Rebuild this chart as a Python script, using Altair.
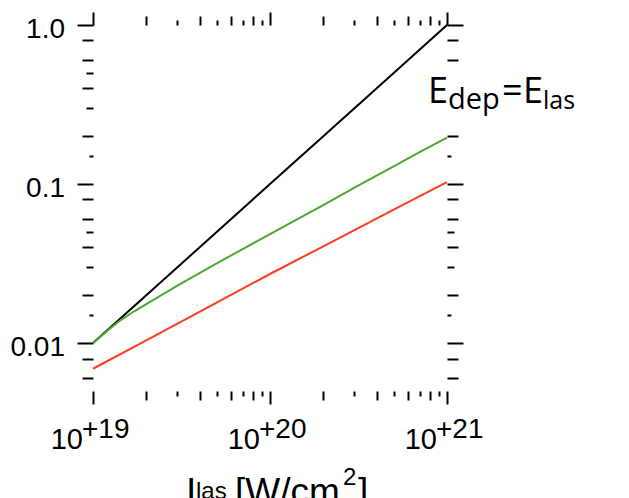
import altair as alt
import pandas as pd

# ---- data ----
black_x = [1e19, 2e19, 5e19, 1e20, 2e20, 5e20, 1e21]
black_y = [0.0100, 0.0200, 0.0500, 0.100, 0.200, 0.500, 1.00]

green_x = [1e19, 1.2e19, 1.4e19, 1.7e19, 2e19, 3e19, 5e19, 7e19, 1e20, 1.5e20, 2e20, 3e20, 5e20, 7e20, 1e21]
green_y = [0.0100, 0.0119, 0.0137, 0.0158, 0.0176, 0.0230, 0.0317, 0.0390, 0.0485, 0.0620, 0.0738, 0.0950, 0.129, 0.159, 0.196]

red_x = [1e19, 2e19, 5e19, 1e20, 2e20, 5e20, 1e21]
red_y = [0.0069, 0.0104, 0.0180, 0.0272, 0.0406, 0.069, 0.103]

series_names = ["black", "green", "red"]
series_colors = ["#000000", "#4da832", "#ff3c1e"]

x_major = [1e19, 1e20, 1e21]
x_base_labels = ["10", "10", "10"]
x_exp_labels = ["+19", "+20", "+21"]
y_major = [1.0, 0.1, 0.01]
y_labels = ["1.0", "0.1", "0.01"]

x_ticks = [m * d for d in [1e19, 1e20] for m in [1, 2, 3, 4, 5, 6, 7, 8, 9]] + [1e21]
y_ticks = [0.006, 0.008, 0.01, 0.015, 0.02, 0.03, 0.04, 0.05, 0.06, 0.08,
           0.1, 0.15, 0.2, 0.3, 0.4, 0.5, 0.6, 0.8, 1.0]
y_ticks_right = [0.006, 0.008, 0.01, 0.015, 0.02, 0.03, 0.04, 0.05, 0.06, 0.08,
                 0.1, 0.15, 0.2, 0.6, 0.8, 1.0]

X_DOMAIN = [1e19, 1e21]
Y_DOMAIN = [0.005, 1.0]

rows = []
for name, xs, ys in zip(series_names, [black_x, green_x, red_x], [black_y, green_y, red_y]):
    for xv, yv in zip(xs, ys):
        rows.append({"series": name, "I": xv, "E": yv})
lines_df = pd.DataFrame(rows)

xscale = alt.Scale(type="log", domain=X_DOMAIN, nice=False)
yscale = alt.Scale(type="log", domain=Y_DOMAIN, nice=False)

M = "round(datum.value/pow(10,floor(log(datum.value)/LN10+1e-6))*10)"
y_tick_expr = f"{M}==10?16:({M}==15?4:(({M}==30||{M}==50)?7:11))"
x_tick_expr = f"{M}==10?13:(({M}==20||{M}==40||{M}==60||{M}==80)?9:5)"


def xaxis(orient):
    return alt.Axis(orient=orient, values=x_ticks, labels=False, title=None, domain=False,
                    grid=False, tickColor="black", tickWidth=2,
                    tickSize=alt.ExprRef(expr=x_tick_expr))


def yaxis(orient, vals):
    return alt.Axis(orient=orient, values=vals, labels=False, title=None, domain=False,
                    grid=False, tickColor="black", tickWidth=2,
                    tickSize=alt.ExprRef(expr=y_tick_expr))


lines = alt.Chart(lines_df).mark_line(strokeWidth=2).encode(
    x=alt.X("I:Q", scale=xscale, axis=xaxis("bottom")),
    y=alt.Y("E:Q", scale=yscale, axis=yaxis("left", y_ticks)),
    color=alt.Color("series:N", scale=alt.Scale(domain=series_names, range=series_colors), legend=None),
    detail="series:N",
)

# annotation E_dep = E_las (anchored at right edge)
ann_df = pd.DataFrame({"I": [1e21], "E": [0.3233]})
FONT2 = "Open Sans"


def ann(text, dx, dy, size):
    return alt.Chart(ann_df).mark_text(text=text, align="left", baseline="alphabetic",
                                       dx=dx, dy=dy, fontSize=size, font=FONT2, color="black")


annE = ann("E", -19, 0, 36).encode(
    x=alt.X("I:Q", scale=xscale, axis=xaxis("top")),
    y=alt.Y("E:Q", scale=yscale, axis=yaxis("right", y_ticks_right)),
)
enc_none = dict(x=alt.X("I:Q", scale=xscale, axis=None), y=alt.Y("E:Q", scale=yscale, axis=None))
ann_rest = [
    ann("dep", 1, 6, 29).encode(**enc_none),
    ann("=", 55, 0, 36).encode(**enc_none),
    ann("E", 76, 0, 36).encode(**enc_none),
    ann("las", 96, 6, 25).encode(**enc_none),
]

FONT = "Liberation Sans"
xlab_df = pd.DataFrame({"I": x_major, "E": [Y_DOMAIN[0]] * 3, "base": x_base_labels, "exp": x_exp_labels})
xlab_base = alt.Chart(xlab_df).mark_text(align="right", baseline="alphabetic", dx=-10, dy=58,
                                         fontSize=29, font=FONT, color="black").encode(text="base:N", **enc_none)
xlab_exp = alt.Chart(xlab_df).mark_text(align="left", baseline="alphabetic", dx=-11, dy=47,
                                        fontSize=28, font=FONT, color="black").encode(text="exp:N", **enc_none)

ylab_df = pd.DataFrame({"I": [X_DOMAIN[0]] * 3, "E": y_major, "lab": y_labels})
ylab = alt.Chart(ylab_df).mark_text(align="right", baseline="middle", dx=-28, dy=5,
                                    fontSize=28, font=FONT, color="black").encode(text="lab:N", **enc_none)

# x-axis title pieces: I_las [W/cm^2], anchored at 1e20 bottom
t_df = pd.DataFrame({"I": [1e20], "E": [Y_DOMAIN[0]]})


def tpiece(text, dx, dy, size):
    return alt.Chart(t_df).mark_text(text=text, align="left", baseline="alphabetic", dx=dx, dy=dy,
                                     fontSize=size, font=FONT, color="black").encode(**enc_none)


title_parts = [
    tpiece("I", -84, 113, 37),
    tpiece("las", -74, 108, 24),
    tpiece("[W/cm", -35, 113, 37),
    tpiece("2", 73, 94, 24),
    tpiece("]", 88, 113, 37),
]

chart = alt.layer(lines, annE, *ann_rest, xlab_base, xlab_exp, ylab, *title_parts).resolve_axis(
    x="independent", y="independent"
).properties(
    width=354, height=366,
    autosize=alt.AutoSizeParams(type="none"),
    padding={"left": 93, "top": 25, "right": 182, "bottom": 107},
    background="white",
).configure_view(strokeWidth=0)

chart.save("out.html", embed_options={"renderer": "svg", "actions": False})
